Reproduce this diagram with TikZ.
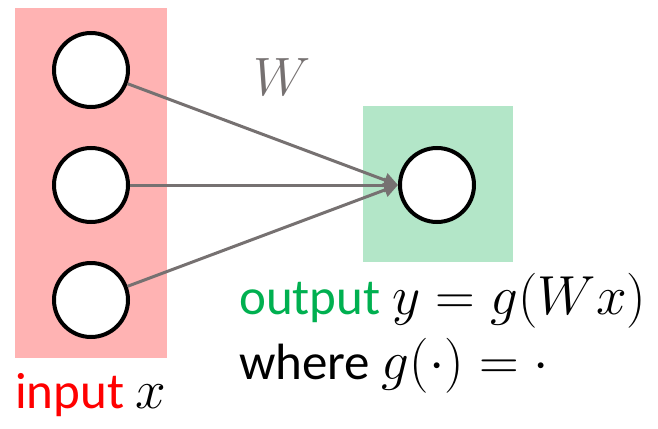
\RequirePackage{fix-cm}
\documentclass[tikz,border=0pt]{standalone}
\usepackage{fontspec}
\setmainfont{Carlito}
\usetikzlibrary{arrows.meta}
\definecolor{inpink}{RGB}{255,179,179}
\definecolor{outgreen}{RGB}{179,230,200}
\definecolor{arrgray}{RGB}{118,113,113}
\definecolor{txtgreen}{RGB}{0,176,80}
\definecolor{txtred}{RGB}{255,0,0}
\newcommand{\mymath}[1]{{\fontsize{55}{60}\selectfont$#1$}}
\tikzset{
  neuron/.style={circle,draw=black,line width=4pt,fill=white,minimum size=74pt,inner sep=0pt},
  conn/.style={draw=arrgray,line width=3pt,-{Triangle[length=14pt,width=14pt]}},
  lbl/.style={inner sep=0pt,anchor=base west,font=\fontsize{51}{60}\selectfont}
}
\begin{document}
\begin{tikzpicture}[x=1pt,y=-1pt]
\useasboundingbox (0,0) rectangle (658,428);
\fill[inpink] (15,8) rectangle (167,358);
\fill[outgreen] (363,106) rectangle (513,262);
\node[neuron] (i1) at (91,70) {};
\node[neuron] (i2) at (91,185) {};
\node[neuron] (i3) at (91,300) {};
\node[neuron] (o) at (437,185) {};
\draw[conn] (i1) -- (o.west);
\draw[conn] (i2) -- (o.west);
\draw[conn] (i3) -- (o.west);
\node[inner sep=0pt,text=arrgray,font=\fontsize{54}{60}\selectfont] (w) at (282,77) {$W$};
\node[lbl] (out) at (239,314) {\textcolor{txtgreen}{output} \mymath{y=g(Wx)}};
\node[lbl] (wh) at (239,379) {where \mymath{g(\cdot)=\cdot}};
\node[lbl] (in) at (15,408) {\textcolor{txtred}{input} \mymath{x}};
\end{tikzpicture}
\end{document}
